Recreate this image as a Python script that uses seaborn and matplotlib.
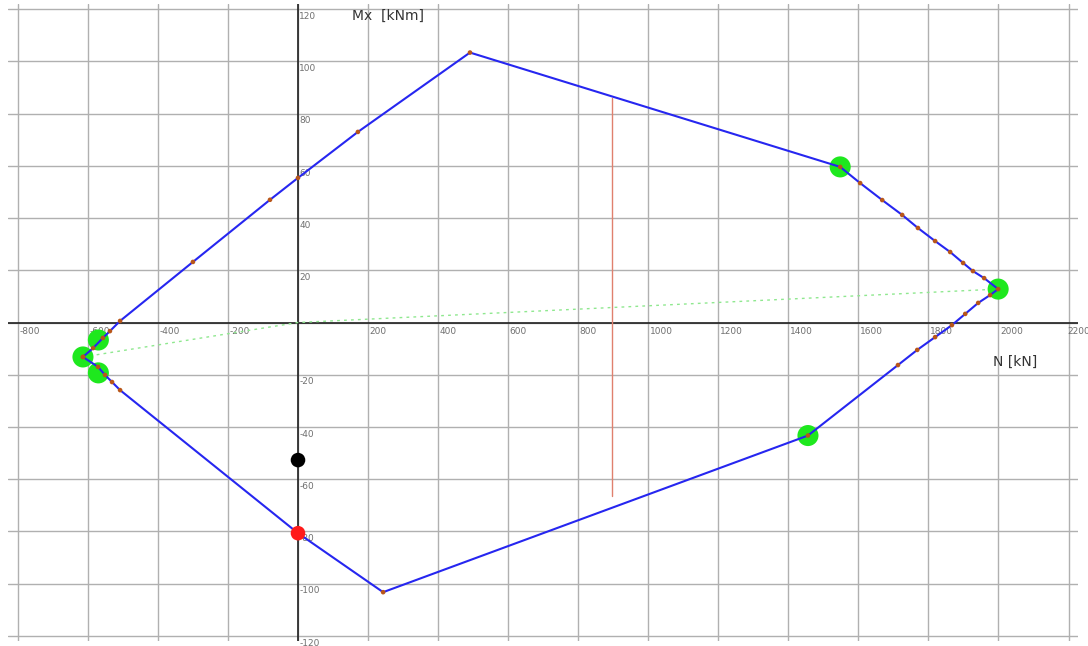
import matplotlib
matplotlib.use("Agg")
import matplotlib.pyplot as plt
import seaborn as sns
import pandas as pd

# Interaction diagram N-Mx: boundary sample points (N [kN], Mx [kNm]), closed polygon
boundary_n = [-614, -585, -557, -537, -508, -300, -80, 0, 171, 491,
              1548, 1605, 1668, 1725, 1770, 1819, 1862, 1899, 1927, 1959, 1999,
              1976, 1942, 1905, 1867, 1819, 1768, 1713, 1456,
              243, 0, -508, -531, -551, -571, -614]
boundary_m = [-13.2, -9.8, -5.9, -3.3, 0.6, 23.2, 47.0, 55.4, 73.0, 103.4,
              59.6, 53.4, 46.9, 41.2, 36.2, 31.2, 27.0, 22.8, 19.7, 17.0, 12.8,
              10.5, 7.5, 3.3, -1.0, -5.6, -10.5, -16.3, -43.3,
              -103.3, -80.7, -25.9, -22.8, -20.1, -17.0, -13.2]

# Governing load cases on the boundary
governing_n = [-570, -614, -570, 1548, 1999, 1456]
governing_m = [-6.7, -13.2, -19.3, 59.6, 12.8, -43.3]

# Load path through the origin
path_n = [-614, 0, 1999]
path_m = [-13.2, 0.0, 12.8]

# Vertical check line at constant N
check_n = [897, 897]
check_m = [86.0, -66.5]

# Acting load and design point
acting_n, acting_m = [0], [-52.7]
design_n, design_m = [0], [-80.7]

x_ticks = list(range(-800, 2201, 200))
y_ticks = list(range(-120, 121, 20))

sns.set_theme(style="white")
plt.rcParams["font.family"] = ["DejaVu Sans"]

fig = plt.figure(figsize=(10.88, 6.46), dpi=100)
ax = fig.add_axes([8 / 1088, 5 / 646, 1070 / 1088, 637 / 646])
ax.set_xlim(-828, 2227)
ax.set_ylim(-122, 122)

ax.set_xticks(x_ticks)
ax.set_yticks(y_ticks)
ax.grid(True, color="#b0b0b0", linewidth=1.0)
ax.tick_params(length=0, labelbottom=False, labelleft=False)
for s in ax.spines.values():
    s.set_visible(False)

# axes through the origin
ax.axhline(0, color="#202020", linewidth=1.2, zorder=2)
ax.axvline(0, color="#202020", linewidth=1.2, zorder=2)

# tick labels next to the axes
for v in x_ticks:
    if v == 0:
        continue
    dx = -1 if v == x_ticks[-1] else 1
    ax.annotate(str(v), (v, 0), xytext=(dx, -3), textcoords="offset points",
                ha="left", va="top", fontsize=6.5, color="#707070", zorder=3,
                annotation_clip=False)
for v in y_ticks:
    if v == 0:
        continue
    ax.annotate(str(v), (0, v), xytext=(1, -2), textcoords="offset points",
                ha="left", va="top", fontsize=6.5, color="#707070", zorder=3)

ax.text(154, 120, "Mx  [kNm]", fontsize=10, color="#333333", ha="left", va="top")
ax.text(1985, -12.5, "N [kN]", fontsize=10, color="#333333", ha="left", va="top")

# load path and check line
sns.lineplot(x=path_n, y=path_m, sort=False, estimator=None, ax=ax,
             color="#8fe88f", linewidth=1.0, linestyle=(0, (2, 3)), zorder=3)
sns.lineplot(x=check_n, y=check_m, sort=False, estimator=None, ax=ax,
             color="#e0806e", linewidth=1.0, zorder=3)

# governing points
sns.scatterplot(x=governing_n, y=governing_m, ax=ax, s=230, color="#1ee81e",
                edgecolor="none", zorder=4)

# boundary curve with its sample points
df = pd.DataFrame({"N": boundary_n, "M": boundary_m})
sns.lineplot(data=df, x="N", y="M", sort=False, estimator=None, ax=ax,
             color="#2626f0", linewidth=1.5, zorder=5)
sns.scatterplot(data=df, x="N", y="M", ax=ax, s=11, color="#b8561a",
                edgecolor="none", zorder=6)

sns.scatterplot(x=acting_n, y=acting_m, ax=ax, s=110, color="black",
                edgecolor="none", zorder=7)
sns.scatterplot(x=design_n, y=design_m, ax=ax, s=110, color="#ff1a1a",
                edgecolor="none", zorder=7)

ax.set_xlabel("")
ax.set_ylabel("")
fig.savefig("out.png", dpi=100)
